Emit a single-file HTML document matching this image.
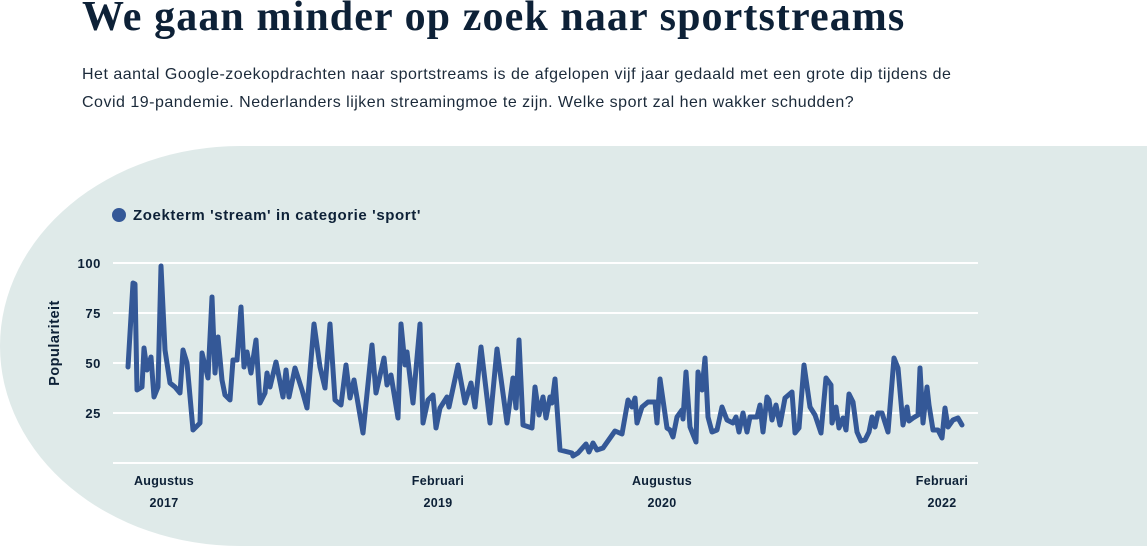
<!DOCTYPE html>
<html><head><meta charset="utf-8"><style>
body{margin:0;width:1147px;height:546px;overflow:hidden;background:#fff;position:relative;font-family:"Liberation Sans",sans-serif;color:#0d2137}
h1{position:absolute;left:82px;top:-7px;margin:0;font-family:"Liberation Serif",serif;font-size:42px;font-weight:bold;letter-spacing:1.1px;white-space:nowrap}
.sub{position:absolute;left:82px;top:61px;font-size:16px;letter-spacing:0.5px;line-height:28px;color:#1b2a3a;width:1000px}
.bg{position:absolute;left:0;top:146px;width:1300px;height:400px;background:#dfeae9;border-top-left-radius:240px 200px;border-bottom-left-radius:240px 200px}
</style></head><body>
<h1>We gaan minder op zoek naar sportstreams</h1>
<div class="sub">Het aantal Google-zoekopdrachten naar sportstreams is de afgelopen vijf jaar gedaald met een grote dip tijdens de<br>Covid 19-pandemie. Nederlanders lijken streamingmoe te zijn. Welke sport zal hen wakker schudden?</div>
<div class="bg"></div>
<svg width="1147" height="546" style="position:absolute;left:0;top:0" font-family="Liberation Sans, sans-serif" font-weight="bold" fill="#0d2137">
<circle cx="119" cy="215" r="7" fill="#345897"/>
<text x="133" y="220" font-size="15" letter-spacing="0.6">Zoekterm 'stream' in categorie 'sport'</text>
<g stroke="#fff" stroke-width="2">
<line x1="113" y1="263" x2="978" y2="263"/><line x1="113" y1="313" x2="978" y2="313"/><line x1="113" y1="363" x2="978" y2="363"/><line x1="113" y1="413" x2="978" y2="413"/><line x1="113" y1="463" x2="978" y2="463"/>
</g>
<g font-size="13" letter-spacing="0.6" text-anchor="end"><text x="101" y="268">100</text><text x="101" y="318">75</text><text x="101" y="368">50</text><text x="101" y="418">25</text></g>
<text transform="translate(59,343) rotate(-90)" font-size="14.5" letter-spacing="0.5" text-anchor="middle">Populariteit</text>
<g font-size="12.5" letter-spacing="0.3" text-anchor="middle"><text x="164" y="485">Augustus</text><text x="164" y="507">2017</text><text x="438" y="485">Februari</text><text x="438" y="507">2019</text><text x="662" y="485">Augustus</text><text x="662" y="507">2020</text><text x="942" y="485">Februari</text><text x="942" y="507">2022</text></g>
<polyline fill="none" stroke="#345897" stroke-width="5" stroke-linejoin="round" stroke-linecap="round" points="128,367 133,283 135,284 137,390 142,387 144,348 147,370 151,357 154,397 158,387 161,266 165,350 170,383 175,387 180,393 183,350 187,363 193,430 200,423 202,353 208,378 212,297 215,373 218,337 222,380 225,395 230,400 233,360 237,360 241,307 244,367 247,352 251,373 256,340 260,403 265,393 267,373 270,387 276,362 283,397 286,370 289,397 295,368 302,390 307,408 314,324 320,367 325,388 330,324 335,400 341,405 346,365 350,398 354,380 363,433 372,345 376,393 384,358 387,385 391,375 398,418 401,324 405,365 407,352 413,403 420,324 423,423 428,400 433,395 436,428 440,408 447,397 449,407 458,365 465,403 471,383 475,407 481,347 490,423 497,349 507,423 513,378 516,408 519,340 523,425 532,428 535,387 539,415 543,397 546,418 550,397 552,403 555,379 560,450 572,453 573,456 578,453 586,444 589,452 593,443 597,450 603,448 615,431 622,434 628,400 632,407 635,398 637,423 642,407 648,402 655,402 657,423 660,379 667,428 670,430 673,437 677,417 682,410 683,419 686,372 690,427 696,442 698,372 702,390 705,358 708,417 712,432 717,430 722,407 727,420 733,423 736,417 739,432 743,413 747,432 750,417 757,417 760,405 763,432 767,397 769,400 772,420 776,405 780,425 785,398 792,392 795,433 799,428 804,365 810,407 815,415 821,433 826,378 831,385 832,423 836,407 839,428 843,418 846,430 849,394 853,402 857,432 861,441 865,440 869,432 872,417 875,427 878,413 882,413 888,432 894,358 898,368 903,425 907,407 909,421 913,418 918,415 920,368 923,423 927,387 929,405 933,430 938,430 942,438 945,408 948,427 953,420 958,418 962,425"/>
</svg>
</body></html>
